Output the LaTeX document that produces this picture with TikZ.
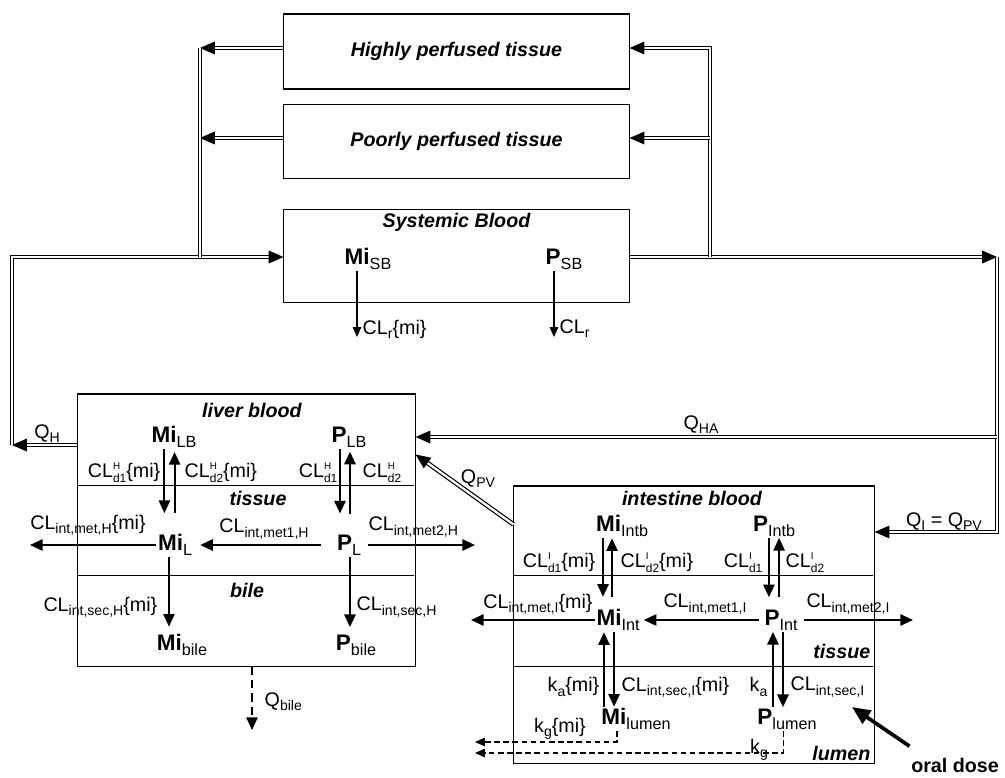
\documentclass[tikz,border=0pt]{standalone}
\usepackage{fontspec}
\setmainfont{Liberation Sans}
\usetikzlibrary{arrows.meta, positioning}

\newcommand{\lsub}[1]{\raisebox{-3pt}{\fontsize{10}{10}\selectfont #1}}
\newcommand{\ssub}[1]{\raisebox{-3.4pt}{\fontsize{11.5}{12}\selectfont\mdseries #1}}
\newcommand{\lsupsub}[2]{\makebox[0pt][l]{\raisebox{5.3pt}{\fontsize{7}{7}\selectfont #1}}\raisebox{-4pt}{\fontsize{8.5}{8.5}\selectfont #2}}

\begin{document}
\begin{tikzpicture}[
    x=0.025cm, y=-0.025cm,
    box/.style={draw, line width=0.75pt, inner sep=0pt},
    ttl/.style={font=\fontsize{14}{16}\selectfont\bfseries\itshape, inner sep=1pt},
    spc/.style={font=\fontsize{16}{18}\selectfont\bfseries, inner sep=1pt},
    lbl/.style={font=\fontsize{14}{16}\selectfont, inner sep=1pt},
    arr/.style={-{Triangle[length=9pt, width=8pt]}, line width=1.4pt},
    thinarr/.style={-{Triangle[length=7pt, width=6pt]}, line width=0.9pt},
    dasharr/.style={-{Triangle[length=7pt, width=6pt]}, line width=0.8pt, dash pattern=on 4pt off 2.5pt},
    qarr/.style={arr, dash pattern=on 6pt off 3.5pt},
    pipe/.style={double, double distance=1.6pt, line width=0.85pt},
    flow/.style={pipe, -{Triangle[length=10.5pt, width=9pt]}},
]
\useasboundingbox (0,0) rectangle (1005,777);

% body compartments
\node[box, ttl, minimum width=8.625cm, minimum height=1.875cm] (hpt) at (456.5,51.5) {Highly perfused tissue};
\node[box, ttl, minimum width=8.625cm, minimum height=1.85cm, below=0.35cm of hpt] (ppt) {Poorly perfused tissue};
\node[box, minimum width=8.625cm, minimum height=2.325cm, below=0.75cm of ppt] (sb) {};
\node[ttl] (sbt) at (456.5,222) {Systemic Blood};
\node[spc] (misb) at (368,259) {Mi\ssub{SB}};
\node[spc] (psb) at (564,259) {P\ssub{SB}};

\coordinate (clrmi) at (357,337);
\coordinate (clrp) at (554,337);
\draw[thinarr] (misb.south -| clrmi) -- (clrmi);
\draw[thinarr] (psb.south -| clrp) -- (clrp);
\node[lbl, anchor=west] (lclrmi) at (361,329) {CL\lsub{r}\{mi\}};
\node[lbl, anchor=west] (lclrp) at (558,329) {CL\lsub{r}};

% liver
\node[box, minimum width=8.425cm, minimum height=6.8cm] (lvr) at (246.5,530) {};
\draw[line width=0.75pt] (lvr.north west) ++(0,92) -- ++(337,0);
\draw[line width=0.75pt] (lvr.north west) ++(0,182) -- ++(337,0);
\node[ttl] (tlb) at (252,410) {liver blood};
\node[ttl] (tlt) at (258,498) {tissue};
\node[ttl] (tbile) at (247,590) {bile};

\node[spc] (milb) at (174,437) {Mi\ssub{LB}};
\node[spc] (plb) at (349,437) {P\ssub{LB}};
\node[spc] (mil) at (175,545) {Mi\ssub{L}};
\node[spc] (pl) at (349,545) {P\ssub{L}};
\node[spc] (mibile) at (182,645) {Mi\ssub{bile}};
\node[spc] (pbile) at (356,645) {P\ssub{bile}};

\draw[arr, shorten >=14pt, transform canvas={xshift=-6.8pt}] (milb.south) -- (milb.south |- mil.north);
\draw[arr, shorten <=14pt, shorten >=2pt, transform canvas={xshift=0.4pt}] (milb.south |- mil.north) -- (milb.south);
\draw[arr, shorten >=14pt, transform canvas={xshift=-6.4pt}] (plb.south) -- (plb.south |- pl.north);
\draw[arr, shorten <=14pt, shorten >=2pt, transform canvas={xshift=0.7pt}] (plb.south |- pl.north) -- (plb.south);
\draw[arr, shorten >=4.3pt, transform canvas={xshift=-4.3pt}] (mil.south) -- (mil.south |- mibile.north);
\draw[arr, shorten >=4.3pt, transform canvas={xshift=0.7pt}] (pl.south) -- (pl.south |- pbile.north);

\node[lbl, anchor=east] at (162,473) {CL\lsupsub{H}{d1}\{mi\}};
\node[lbl, anchor=west] at (183,473) {CL\lsupsub{H}{d2}\{mi\}};
\node[lbl, anchor=east] at (339,473) {CL\lsupsub{H}{d1}};
\node[lbl, anchor=west] at (361,473) {CL\lsupsub{H}{d2}};

\coordinate (metmi) at (30,545);
\coordinate (met2h) at (475,545);
\draw[arr] (mil) -- (metmi);
\draw[arr, shorten <=10pt, shorten >=4.6pt] (pl) -- (mil);
\draw[arr, shorten <=3.5pt] (pl) -- (met2h);
\node[lbl] at (88,525) {CL\lsub{int,met,H}\{mi\}};
\node[lbl] at (264,529) {CL\lsub{int,met1,H}};
\node[lbl, anchor=west] at (367,527) {CL\lsub{int,met2,H}};
\node[lbl, anchor=east] at (159,607) {CL\lsub{int,sec,H}\{mi\}};
\node[lbl, anchor=west] at (355,607) {CL\lsub{int,sec,H}};

\coordinate (qbile) at (252,730);
\draw[qarr] (lvr.south -| qbile) -- (qbile);
\node[lbl, anchor=west] at (263,702) {Q\lsub{bile}};

% intestine
\node[box, minimum width=9cm, minimum height=6.925cm] (int) at (694,624.5) {};
\draw[line width=0.75pt] (int.north west) ++(0,90) -- ++(360,0);
\draw[line width=0.75pt] (int.north west) ++(0,181) -- ++(360,0);
\node[ttl] (tib) at (692,498) {intestine blood};
\node[ttl, anchor=east] (tit) at (872,651) {tissue};
\node[ttl, anchor=east] (til) at (872,753) {lumen};

\node[spc] (miintb) at (622,526) {Mi\ssub{Intb}};
\node[spc] (pintb) at (774,526) {P\ssub{Intb}};
\node[spc] (miint) at (618,620) {Mi\ssub{Int}};
\node[spc] (pint) at (781,620) {P\ssub{Int}};
\node[spc] (milum) at (636,719) {Mi\ssub{lumen}};
\node[spc] (plum) at (787,719) {P\ssub{lumen}};

\draw[arr, shorten >=7.8pt, transform canvas={xshift=-13.5pt}] (miintb.south) -- (miintb.south |- miint.north);
\draw[arr, shorten <=7.8pt, transform canvas={xshift=-7.1pt}] (miintb.south |- miint.north) -- (miintb.south);
\draw[arr, shorten >=7.8pt, transform canvas={xshift=-3.6pt}] (pintb.south) -- (pintb.south |- pint.north);
\draw[arr, shorten <=7.8pt, transform canvas={xshift=3.6pt}] (pintb.south |- pint.north) -- (pintb.south);
\draw[arr, transform canvas={xshift=-10pt}] (miint.south |- milum.north) -- (miint.south);
\draw[arr, transform canvas={xshift=-2.8pt}] (miint.south) -- (miint.south |- milum.north);
\draw[arr, transform canvas={xshift=-5.7pt}] (pint.south |- plum.north) -- (pint.south);
\draw[arr, transform canvas={xshift=1.4pt}] (pint.south) -- (pint.south |- plum.north);

\node[lbl, anchor=east] at (597,563) {CL\lsupsub{I}{d1}\{mi\}};
\node[lbl, anchor=west] at (619,563) {CL\lsupsub{I}{d2}\{mi\}};
\node[lbl, anchor=east] at (764,563) {CL\lsupsub{I}{d1}};
\node[lbl, anchor=west] at (784,563) {CL\lsupsub{I}{d2}};

\coordinate (metmii) at (471,620);
\coordinate (met2i) at (913,620);
\draw[arr] (miint) -- (metmii);
\draw[arr, shorten <=2.8pt, shorten >=1.8pt] (pint) -- (miint);
\draw[arr, shorten <=3.5pt] (pint) -- (met2i);
\node[lbl] at (538,604) {CL\lsub{int,met,I}\{mi\}};
\node[lbl] at (705,604) {CL\lsub{int,met1,I}};
\node[lbl] at (848,604) {CL\lsub{int,met2,I}};

\node[lbl, anchor=east] at (601,687) {k\lsub{a}\{mi\}};
\node[lbl, anchor=west] at (620,687) {CL\lsub{int,sec,I}\{mi\}};
\node[lbl, anchor=east] at (769,687) {k\lsub{a}};
\node[lbl, anchor=west] at (789,687) {CL\lsub{int,sec,I}};

\coordinate (kgmi) at (475,742);
\coordinate (kgp) at (475,753);
\draw[dasharr] ([xshift=-13.5pt]milum.south) |- (kgmi);
\draw[dasharr] ([xshift=-2.8pt]plum.south) |- (kgp);
\node[lbl] at (560,729) {k\lsub{g}\{mi\}};
\node[lbl] at (759,750) {k\lsub{g}};

\node[font=\fontsize{14}{16}\selectfont\bfseries, inner sep=1pt] (odose) at (955,765) {oral dose};
\coordinate (dosetip) at (852,707);
\draw[-{Triangle[length=13pt, width=11pt]}, line width=2.6pt] ([yshift=7pt]odose.north west) -- (dosetip);

% blood flows
\coordinate (ltop) at (200,48);
\coordinate (lmid) at (200,138);
\coordinate (ljoin) at (200,257);
\coordinate (rtop) at (710,48);
\coordinate (rmid) at (710,138);
\coordinate (rjoin) at (710,257);
\coordinate (wcorner) at (12,257);
\coordinate (wlow) at (12,445);
\coordinate (ecorner) at (997,257);
\coordinate (qha) at (997,437);
\coordinate (qi) at (997,532);

\draw[flow] (hpt.west |- ltop) -- (ltop);
\draw[flow] (ppt.west |- lmid) -- (lmid);
\draw[flow] (wlow) -- (wcorner) -- (sb.west |- wcorner);
\draw[pipe] (ltop) -- (ljoin);
\draw[flow] (sb.east |- ecorner) -- (ecorner);
\draw[flow] (ecorner) -- (qi) -- (int.east |- qi);
\draw[flow] (rjoin) -- (rtop) -- (hpt.east |- rtop);
\draw[flow] (rmid) -- (ppt.east |- rmid);
\draw[flow] (qha) -- (lvr.east |- qha);
\draw[flow] (lvr.west |- wlow) -- (wlow);
\draw[flow] ([yshift=-27.7pt]int.north west) -- ([yshift=-43.4pt]lvr.north east);

\node[lbl] at (47,434) {Q\lsub{H}};
\node[lbl] at (701,425) {Q\lsub{HA}};
\node[lbl] at (478,479) {Q\lsub{PV}};
\node[lbl] at (944,522) {Q\lsub{I} = Q\lsub{PV}};

\end{tikzpicture}
\end{document}
